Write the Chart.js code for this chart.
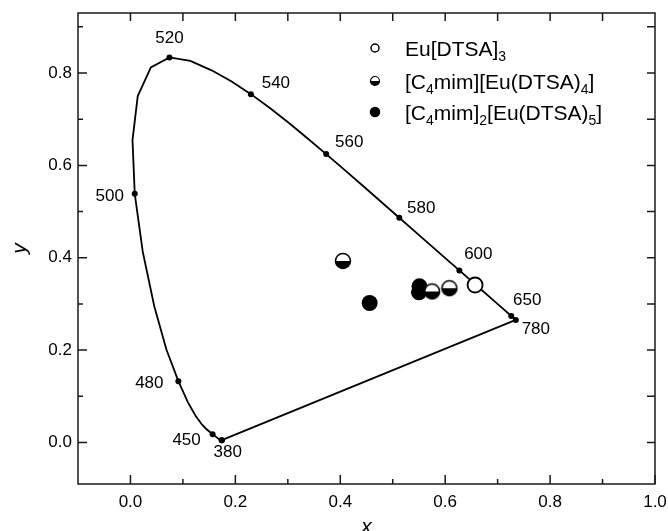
<!DOCTYPE html>
<html>
<head>
<meta charset="utf-8">
<script src="https://cdn.jsdelivr.net/npm/chart.js@4/dist/chart.umd.min.js"></script>
<style>
  html, body { margin: 0; padding: 0; background: #fff; }
</style>
</head>
<body>
<canvas id="c" width="668" height="531"></canvas>
<script>
// CIE 1931 spectral locus (chromaticity x, y per wavelength in nm)
const LOCUS_NM = [380, 400, 420, 430, 440, 450, 460, 465, 470, 475, 480, 485, 490, 495, 500,
  505, 510, 515, 520, 525, 530, 535, 540, 545, 550, 555, 560, 565, 570, 575, 580, 585, 590,
  595, 600, 605, 610, 620, 630, 640, 650, 660, 680, 700, 780];
const LOCUS_X = [0.1741, 0.1733, 0.1714, 0.1689, 0.1644, 0.1566, 0.1440, 0.1355, 0.1241, 0.1096,
  0.0913, 0.0687, 0.0454, 0.0235, 0.0082, 0.0039, 0.0139, 0.0389, 0.0743, 0.1142, 0.1547,
  0.1929, 0.2296, 0.2658, 0.3016, 0.3373, 0.3731, 0.4087, 0.4441, 0.4788, 0.5125, 0.5448,
  0.5752, 0.6029, 0.6270, 0.6482, 0.6658, 0.6915, 0.7079, 0.7190, 0.7260, 0.7300, 0.7334,
  0.7347, 0.7347];
const LOCUS_Y = [0.0050, 0.0048, 0.0051, 0.0069, 0.0109, 0.0177, 0.0297, 0.0399, 0.0578, 0.0868,
  0.1327, 0.2007, 0.2950, 0.4127, 0.5384, 0.6548, 0.7502, 0.8120, 0.8338, 0.8262, 0.8059,
  0.7816, 0.7543, 0.7243, 0.6923, 0.6589, 0.6245, 0.5896, 0.5547, 0.5202, 0.4866, 0.4544,
  0.4242, 0.3965, 0.3725, 0.3514, 0.3340, 0.3083, 0.2920, 0.2809, 0.2740, 0.2700, 0.2666,
  0.2653, 0.2653];
const MARKED_NM = [380, 450, 480, 500, 520, 540, 560, 580, 600, 650, 780];

// measured colour coordinates
const EU3_X = [0.657];
const EU3_Y = [0.341];
const EU4_X = [0.405, 0.575, 0.608];
const EU4_Y = [0.393, 0.327, 0.334];
const EU5_X = [0.456, 0.551, 0.550];
const EU5_Y = [0.302, 0.338, 0.325];
const SERIES = ["Eu[DTSA]_{3}", "[C_{4}mim][Eu(DTSA)_{4}]", "[C_{4}mim]_{2}[Eu(DTSA)_{5}]"];

const X_TICKS = [0, 0.2, 0.4, 0.6, 0.8, 1.0];
const X_MINOR = [0.1, 0.3, 0.5, 0.7, 0.9];
const Y_TICKS = [0, 0.2, 0.4, 0.6, 0.8];
const Y_MINOR = [0.1, 0.3, 0.5, 0.7, 0.9];
const OPP_TICKS = [0, 0.1, 0.2, 0.3, 0.4, 0.5, 0.6, 0.7, 0.8, 0.9];

const FAMILY = "'Liberation Sans', Arial, sans-serif";
const pts = (xs, ys) => xs.map((x, i) => ({ x, y: ys[i] }));

// half-filled marker: white top, black bottom
function halfDot(r, lw) {
  const s = 2 * Math.ceil(r + lw);
  const c = document.createElement("canvas");
  c.width = c.height = s;
  const g = c.getContext("2d");
  const m = s / 2;
  g.beginPath(); g.arc(m, m, r, 0, Math.PI * 2); g.fillStyle = "#fff"; g.fill();
  g.beginPath(); g.arc(m, m, r, 0, Math.PI); g.closePath(); g.fillStyle = "#000"; g.fill();
  g.beginPath(); g.arc(m, m, r, 0, Math.PI * 2); g.lineWidth = lw; g.strokeStyle = "#000"; g.stroke();
  return c;
}

// text with _{..} subscripts
function richText(ctx, str, x, y, size) {
  const parts = str.split(/(_\{[^}]*\})/).filter(Boolean);
  parts.forEach((p) => {
    const sub = p.startsWith("_{");
    const t = sub ? p.slice(2, -1) : p;
    ctx.font = `${sub ? Math.round(size * 0.68) : size}px ${FAMILY}`;
    ctx.fillText(t, x, sub ? y + 5 : y);
    x += ctx.measureText(t).width;
  });
}

// wavelength labels: pixel offsets from the marked locus point
const NM_OFFSET = {
  380: [6, 12], 450: [-26, 6], 480: [-29, 2], 500: [-25, 2], 520: [0, -19], 540: [25, -11],
  560: [23, -12], 580: [22, -9], 600: [19, -16], 650: [16, -16], 780: [20, 9],
};

const decor = {
  id: "decor",
  afterDraw(chart) {
    const { ctx, chartArea: a, scales: { x, y } } = chart;
    ctx.save();
    // frame + inward ticks
    ctx.strokeStyle = "#1a1a1a";
    ctx.lineWidth = 1.5;
    ctx.strokeRect(a.left, a.top, a.right - a.left, a.bottom - a.top);
    ctx.beginPath();
    const tick = (x1, y1, x2, y2) => { ctx.moveTo(x1, y1); ctx.lineTo(x2, y2); };
    X_TICKS.forEach((v) => { const p = x.getPixelForValue(v); tick(p, a.bottom, p, a.bottom - 9); });
    X_MINOR.forEach((v) => { const p = x.getPixelForValue(v); tick(p, a.bottom, p, a.bottom - 5); });
    Y_TICKS.forEach((v) => { const p = y.getPixelForValue(v); tick(a.left, p, a.left + 9, p); });
    Y_MINOR.forEach((v) => { const p = y.getPixelForValue(v); tick(a.left, p, a.left + 5, p); });
    OPP_TICKS.forEach((v) => {
      const px = x.getPixelForValue(v); tick(px, a.top, px, a.top + 8);
      const py = y.getPixelForValue(v); tick(a.right, py, a.right - 8, py);
    });
    ctx.stroke();

    // wavelength labels
    ctx.fillStyle = "#000";
    ctx.font = `17px ${FAMILY}`;
    ctx.textAlign = "center";
    ctx.textBaseline = "middle";
    MARKED_NM.forEach((nm) => {
      const i = LOCUS_NM.indexOf(nm);
      const [dx, dy] = NM_OFFSET[nm];
      ctx.fillText(String(nm), x.getPixelForValue(LOCUS_X[i]) + dx, y.getPixelForValue(LOCUS_Y[i]) + dy);
    });

    // legend
    const rows = [48, 81, 112];
    const mx = 375, tx = 405;
    rows.forEach((ry, i) => {
      ctx.lineWidth = 1.5;
      ctx.strokeStyle = "#000";
      if (i === 1) {
        const img = halfDot(4.5, 1.2);
        ctx.drawImage(img, mx - img.width / 2, ry - img.height / 2);
      } else {
        ctx.beginPath();
        ctx.arc(mx, ry, i === 0 ? 4 : 4.5, 0, Math.PI * 2);
        ctx.fillStyle = i === 0 ? "#fff" : "#000";
        ctx.fill();
        ctx.stroke();
      }
      ctx.fillStyle = "#000";
      ctx.textAlign = "left";
      ctx.textBaseline = "alphabetic";
      richText(ctx, SERIES[i], tx, ry + 8, 21);
    });
    ctx.restore();
  },
};

const locus = pts(LOCUS_X, LOCUS_Y);
locus.push(locus[0]); // line of purples back to 380 nm
const locusR = LOCUS_NM.map((nm) => (MARKED_NM.includes(nm) ? 3 : 0));
locusR.push(3);

const tickFont = { family: FAMILY, size: 17 };
const titleFont = { family: FAMILY, size: 21, style: "italic", lineHeight: 1 };

new Chart(document.getElementById("c"), {
  type: "scatter",
  data: {
    datasets: [
      { label: SERIES[0], data: pts(EU3_X, EU3_Y), pointRadius: 7.5, borderWidth: 1.8,
        pointBackgroundColor: "#fff", pointBorderColor: "#000" },
      { label: SERIES[1], data: pts(EU4_X, EU4_Y), pointStyle: halfDot(7.5, 1.5) },
      { label: SERIES[2], data: pts(EU5_X, EU5_Y), pointRadius: 8, borderWidth: 0,
        pointBackgroundColor: "#000", pointBorderColor: "#000" },
      { label: "locus", data: locus, showLine: true, borderColor: "#000", borderWidth: 1.8,
        pointRadius: locusR, pointBackgroundColor: "#000", pointBorderWidth: 0, tension: 0 },
    ],
  },
  options: {
    responsive: false,
    animation: false,
    events: [],
    layout: { padding: { top: 13, right: 13, left: 0, bottom: 0 } },
    plugins: { legend: { display: false }, tooltip: { enabled: false } },
    scales: {
      x: {
        type: "linear", min: -0.1, max: 1.0,
        afterBuildTicks: (s) => { s.ticks = X_TICKS.map((v) => ({ value: v })); },
        afterFit: (s) => { s.height = 47; s.paddingLeft = 0; s.paddingRight = 0; },
        grid: { display: false, drawTicks: false }, border: { display: false },
        ticks: { font: tickFont, color: "#000", padding: 8, autoSkip: false, maxRotation: 0,
          callback: (v) => v.toFixed(1) },
        title: { display: true, text: "x", font: titleFont, color: "#000", padding: { top: 0, bottom: -7 } },
      },
      y: {
        type: "linear", min: -0.09, max: 0.93,
        afterBuildTicks: (s) => { s.ticks = Y_TICKS.map((v) => ({ value: v })); },
        afterFit: (s) => { s.width = 78; s.paddingTop = 0; s.paddingBottom = 0; },
        grid: { display: false, drawTicks: false }, border: { display: false },
        ticks: { font: tickFont, color: "#000", padding: 6, autoSkip: false,
          callback: (v) => v.toFixed(1) },
        title: { display: true, text: "y", font: titleFont, color: "#000", padding: { top: 10, bottom: 0 } },
      },
    },
  },
  plugins: [decor],
});
</script>
</body>
</html>
